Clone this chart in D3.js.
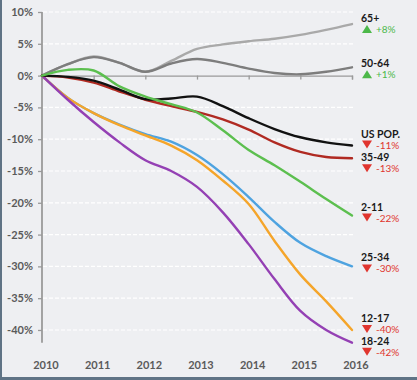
<!DOCTYPE html>
<html><head><meta charset="utf-8">
<script src="https://cdn.jsdelivr.net/npm/d3@7"></script>
<style>
html,body{margin:0;padding:0;background:#eeeff2;}
svg{display:block;}
text{font-family:Lato,"Open Sans",sans-serif;}
</style></head>
<body>
<svg id="chart" width="417" height="380"></svg>
<script>
// ---- data ----
const years = [2010, 2010.5, 2011, 2011.5, 2012, 2012.5, 2013, 2013.5, 2014, 2014.5, 2015, 2015.5, 2016];
const yearTicks = [2010, 2011, 2012, 2013, 2014, 2015, 2016];
const pctTicks = [10, 5, 0, -5, -10, -15, -20, -25, -30, -35, -40];
const seriesNames = ["65+", "50-64", "25-34", "12-17", "18-24", "35-49", "US POP.", "2-11"];
const changeLabels = ["+8%", "+1%", "-30%", "-40%", "-42%", "-13%", "-11%", "-22%"];
const s65 =   [0, 1.8, 3.0, 2.0, 0.6, 2.3, 4.2, 4.9, 5.4, 5.8, 6.4, 7.2, 8.1];
const s5064 = [0, 1.8, 2.9, 2.0, 0.6, 1.9, 2.6, 2.0, 1.1, 0.4, 0.2, 0.6, 1.3];
const s2534 = [0, -3.5, -5.9, -7.7, -9.2, -10.4, -12.5, -15.5, -19.1, -23.0, -26.3, -28.4, -30];
const s1217 = [0, -3.5, -5.9, -7.8, -9.4, -11.0, -13.3, -16.5, -20.2, -26.0, -31.3, -35.5, -40];
const s1824 = [0, -3.8, -7.3, -10.5, -13.3, -15.0, -17.5, -21.5, -26.5, -32.0, -37.0, -40.0, -42];
const s3549 = [0, -0.3, -1.1, -2.5, -3.8, -4.8, -5.7, -6.9, -8.5, -10.5, -12.0, -12.8, -13];
const sUS =   [0, -0.2, -0.8, -2.2, -3.7, -3.6, -3.3, -4.8, -6.7, -8.4, -9.7, -10.5, -11];
const s211 =  [0, 0.9, 0.8, -1.7, -3.3, -4.5, -5.8, -8.6, -11.7, -14.1, -16.7, -19.4, -22];
const seriesValues = [s65, s5064, s2534, s1217, s1824, s3549, sUS, s211];

// ---- style ----
const colors = ["#a9a9a9", "#7d7d7d", "#4ea3e0", "#f5a52a", "#9440b4", "#b02a22", "#111111", "#5cbf4f"];
const labelNudge = [-2, 0, -5, -8, 2, 3, -8, -5];

const svg = d3.select("#chart");
const W = 417, H = 380;
svg.append("rect").attr("width", W).attr("height", H).attr("fill", "#eeeff2");

const x = d3.scaleLinear().domain([2010, 2016]).range([42, 352]);
const y = d3.scaleLinear().domain([-42, 10]).range([342.7, 12]);

// gridlines
svg.append("g").selectAll("line").data(pctTicks.filter(d => d !== 0)).join("line")
  .attr("x1", 43).attr("x2", 353).attr("y1", d => y(d)).attr("y2", d => y(d))
  .attr("stroke", "#ffffff").attr("stroke-width", 1.2).attr("stroke-dasharray", "4,2");

// y axis
const yAxis = d3.axisLeft(y).tickValues(pctTicks).tickSize(4).tickFormat(d => d + "%");
const gy = svg.append("g").attr("transform", "translate(42,0)").call(yAxis);
gy.select(".domain").remove();
gy.selectAll(".tick line").attr("stroke", "#9a9a9a").attr("stroke-width", 1.3);
gy.selectAll(".tick text").attr("x", -9).attr("fill", "#5a5a5a")
  .style("font-size", "11px").style("font-weight", "700");
svg.append("line").attr("x1", 42).attr("x2", 42).attr("y1", y(10)).attr("y2", y(-42))
  .attr("stroke", "#9a9a9a").attr("stroke-width", 1.8);

// zero line with year ticks
const xAxis = d3.axisBottom(x).tickValues(yearTicks).tickSize(4).tickFormat("");
const gx = svg.append("g").attr("transform", `translate(0,${y(0)})`).call(xAxis);
gx.select(".domain").attr("stroke", "#9a9a9a").attr("stroke-width", 1.3);
gx.selectAll(".tick line").attr("stroke", "#9a9a9a").attr("stroke-width", 1.3);

// year labels at bottom
svg.append("g").selectAll("text").data(yearTicks).join("text")
  .attr("x", d => x(d) + 4).attr("y", 369).attr("text-anchor", "middle")
  .attr("fill", "#5a5a5a").style("font-size", "11px").style("font-weight", "700")
  .text(d => d);

// lines
const line = d3.line().x((d, i) => x(years[i])).y(d => y(d)).curve(d3.curveCatmullRom.alpha(0.5));
svg.append("g").selectAll("path").data(seriesValues).join("path")
  .attr("d", d => line(d)).attr("fill", "none")
  .attr("stroke", (d, i) => colors[i]).attr("stroke-width", 2.4)
  .attr("stroke-linejoin", "round").attr("stroke-linecap", "round");

// end labels
const lab = svg.append("g");
seriesNames.forEach((name, i) => {
  const last = seriesValues[i][seriesValues[i].length - 1];
  const by = y(last) + labelNudge[i];
  lab.append("text").attr("x", 361).attr("y", by).attr("fill", "#1a1a1a")
    .style("font-size", "10.5px").style("font-weight", "700").text(name);
  const up = last >= 0;
  const c = up ? "#4cb84a" : "#e0352e";
  const ty = by + 11;
  const tri = up
    ? `M362,${ty} L372,${ty} L367,${ty - 8} Z`
    : `M362,${ty - 8} L372,${ty - 8} L367,${ty} Z`;
  lab.append("path").attr("d", tri).attr("fill", c);
  lab.append("text").attr("x", 376).attr("y", ty).attr("fill", c)
    .style("font-size", "10px").style("font-weight", "400").text(changeLabels[i]);
});

// frame (left & bottom)
svg.append("line").attr("x1", 1).attr("x2", 1).attr("y1", 0).attr("y2", H).attr("stroke", "#5f7385").attr("stroke-width", 2);
svg.append("line").attr("x1", 0).attr("x2", W).attr("y1", H - 1.5).attr("y2", H - 1.5).attr("stroke", "#5f7385").attr("stroke-width", 3);
</script>
</body></html>
